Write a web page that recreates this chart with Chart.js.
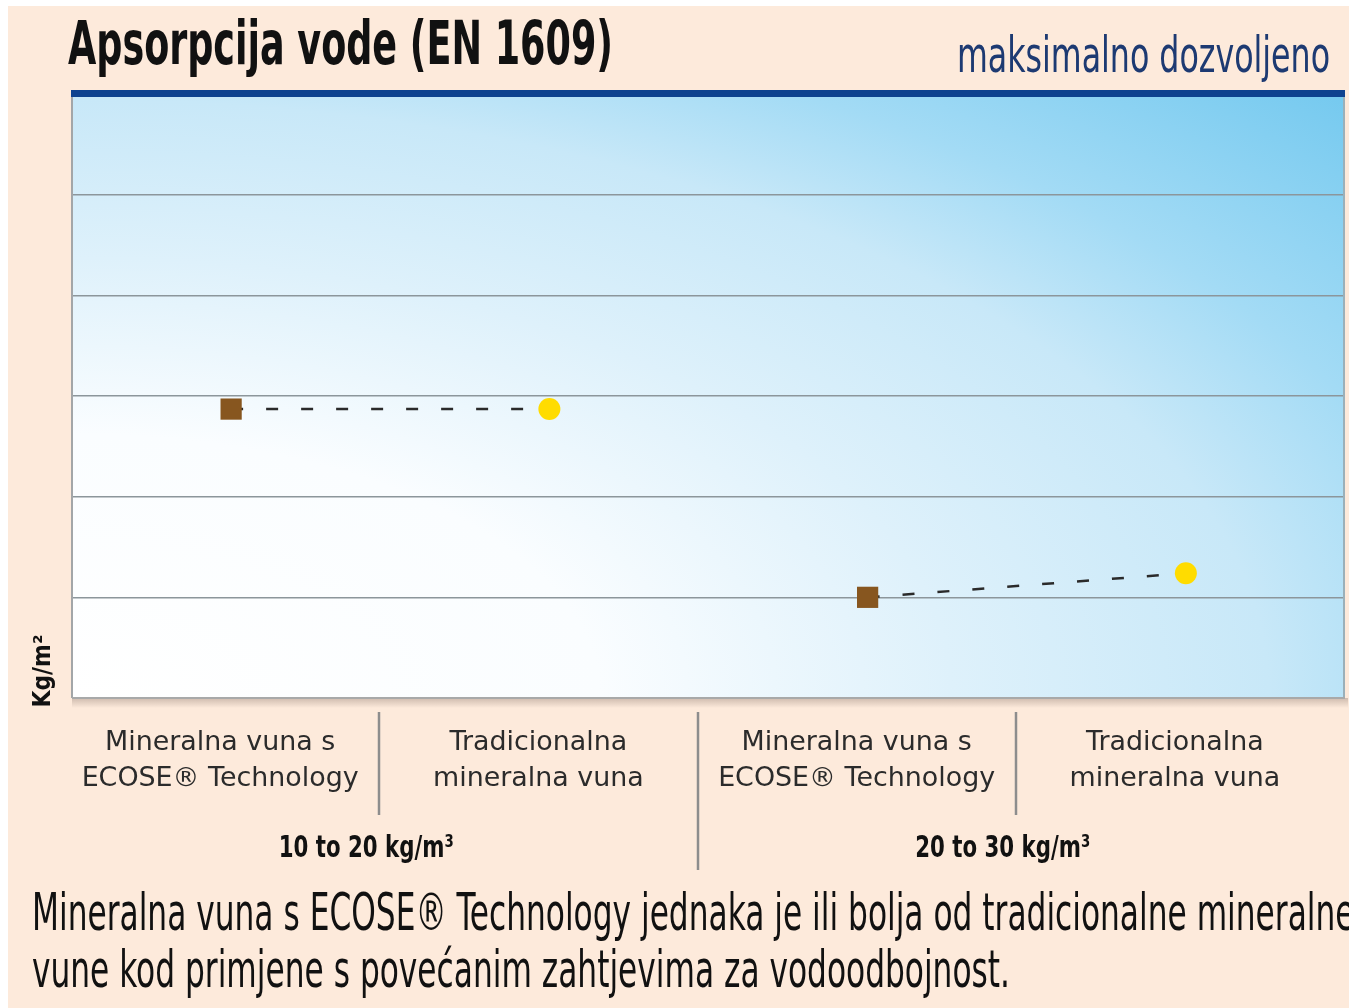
<!DOCTYPE html>
<html><head><meta charset="utf-8">
<script src="https://cdn.jsdelivr.net/npm/chart.js@4.4.1/dist/chart.umd.min.js"></script>
<style>html,body{margin:0;padding:0;background:#fff;overflow:hidden}
#wrap{position:relative;width:1349px;height:1008px}</style>
</head><body><div id="wrap"><canvas id="c" width="1349" height="1008"></canvas></div>
<script>
// ---- data ----
const categories = [
  ["Mineralna vuna s", "ECOSE® Technology"],
  ["Tradicionalna", "mineralna vuna"],
  ["Mineralna vuna s", "ECOSE® Technology"],
  ["Tradicionalna", "mineralna vuna"]
];
const groupLabels = ["10 to 20 kg/m³", "20 to 30 kg/m³"];
const ecoseValues = [2.87, null, 1.00, null];
const traditionalValues = [null, 2.87, null, 1.24];
const yTicks = [0, 1, 2, 3, 4, 5, 6];
const titleText = "Apsorpcija vode (EN 1609)";
const subtitleText = "maksimalno dozvoljeno";
const yAxisLabel = "Kg/m²";
const captionLines = [
  "Mineralna vuna s ECOSE® Technology jednaka je ili bolja od tradicionalne mineralne",
  "vune kod primjene s povećanim zahtjevima za vodoodbojnost."
];
// connecting lines for each density group (built from the series above)
const pairLine1 = [ecoseValues[0], traditionalValues[1], null, null];
const pairLine2 = [null, null, ecoseValues[2], traditionalValues[3]];

// ---- helpers ----
const COND = '"Liberation Sans Narrow", "DejaVu Sans Condensed", "Roboto Condensed", sans-serif';
const WIDE = '"DejaVu Sans", "Lato", sans-serif';
function scaleFor(ctx, text, font, width) {
  ctx.save(); ctx.font = font; const m = ctx.measureText(text).width; ctx.restore();
  return width / m;
}
function drawScaled(ctx, text, x, y, font, color, align, s) {
  ctx.save();
  ctx.font = font; ctx.fillStyle = color; ctx.textBaseline = 'alphabetic'; ctx.textAlign = align;
  ctx.translate(x, y); ctx.scale(s, 1); ctx.fillText(text, 0, 0);
  ctx.restore();
}

const bgPlugin = {
  id: 'bg',
  beforeDraw(chart) {
    const ctx = chart.ctx, a = chart.chartArea;
    ctx.save();
    ctx.fillStyle = '#ffffff'; ctx.fillRect(0, 0, chart.width, chart.height);
    ctx.fillStyle = '#fdeadb'; ctx.fillRect(8, 6, chart.width - 8, chart.height - 6);
    // plot shadow
    const sh = ctx.createLinearGradient(0, a.bottom, 0, a.bottom + 10);
    sh.addColorStop(0, 'rgba(120,100,90,0.35)'); sh.addColorStop(1, 'rgba(120,100,90,0)');
    ctx.fillStyle = sh; ctx.fillRect(a.left, a.bottom, a.right - a.left + 3, 10);
    // plot gradient
    const w = a.right - a.left, h = a.bottom - a.top;
    ctx.beginPath(); ctx.rect(a.left, a.top, w, h); ctx.clip();
    ctx.translate(a.left, a.bottom); ctx.scale(2, 1);
    const g = ctx.createRadialGradient(0, 0, 0, 0, 0, 880);
    g.addColorStop(0, '#ffffff');
    g.addColorStop(0.3, '#fafdff');
    g.addColorStop(0.5, '#def1fb');
    g.addColorStop(0.68, '#c8e8f8');
    g.addColorStop(0.8, '#a3dbf5');
    g.addColorStop(1, '#74c9ef');
    ctx.fillStyle = g; ctx.fillRect(0, -h - 2, w / 2 + 2, h + 4);
    ctx.restore();
  },
  beforeDatasetsDraw(chart) {
    const ctx = chart.ctx, a = chart.chartArea;
    ctx.save();
    ctx.strokeStyle = '#a3a6a8'; ctx.lineWidth = 2;
    ctx.beginPath(); ctx.moveTo(a.left, a.top); ctx.lineTo(a.left, a.bottom); ctx.stroke();
    ctx.strokeStyle = '#9bb0b9';
    ctx.beginPath(); ctx.moveTo(a.right - 1, a.top); ctx.lineTo(a.right - 1, a.bottom); ctx.stroke();
    ctx.strokeStyle = '#a8a9a9';
    ctx.beginPath(); ctx.moveTo(a.left, a.bottom); ctx.lineTo(a.right, a.bottom); ctx.stroke();
    ctx.fillStyle = '#0e428f'; ctx.fillRect(a.left - 1, a.top - 4, a.right - a.left + 1, 7);
    ctx.restore();
  },
  afterDraw(chart) {
    const ctx = chart.ctx, a = chart.chartArea, xs = chart.scales.x;
    // title & subtitle
    const tf = 'bold 60px ' + COND;
    drawScaled(ctx, titleText, 68, 64, tf, '#111111', 'left', scaleFor(ctx, titleText, tf, 545));
    const sf = '50px ' + COND;
    drawScaled(ctx, subtitleText, 1330, 72, sf, '#1d3a72', 'right', scaleFor(ctx, subtitleText, sf, 373));
    // y axis label
    ctx.save();
    ctx.translate(50, 671); ctx.rotate(-Math.PI / 2);
    const yf = 'bold 24px ' + COND;
    drawScaled(ctx, yAxisLabel, 0, 0, yf, '#111111', 'center', scaleFor(ctx, yAxisLabel, yf, 73));
    ctx.restore();
    // category labels
    const cf = '27px ' + WIDE;
    const cs = scaleFor(ctx, 'ECOSE® Technology', cf, 277);
    const centers = categories.map((c, i) => xs.getPixelForValue(i) - 11);
    categories.forEach((lines, i) => {
      lines.forEach((ln, j) => drawScaled(ctx, ln, centers[i], 750 + j * 36, cf, '#2b2b2b', 'center', cs));
    });
    // dividers
    ctx.save(); ctx.strokeStyle = '#8d8d8d'; ctx.lineWidth = 2.5;
    for (let i = 0; i < centers.length - 1; i++) {
      const x = Math.round((centers[i] + centers[i + 1]) / 2);
      const long = (i === 1);
      ctx.beginPath(); ctx.moveTo(x, 712); ctx.lineTo(x, long ? 870 : 815); ctx.stroke();
    }
    ctx.restore();
    // group labels
    const gf = 'bold 31px ' + COND;
    const gs = scaleFor(ctx, groupLabels[0], gf, 175);
    groupLabels.forEach((g, k) => {
      const cx = (xs.getPixelForValue(2 * k) + xs.getPixelForValue(2 * k + 1)) / 2 - 24;
      drawScaled(ctx, g, cx, 857, gf, '#111111', 'center', gs);
    });
    // caption
    const pf = '52px ' + COND;
    const ps = scaleFor(ctx, captionLines[1], pf, 978);
    drawScaled(ctx, captionLines[0], 32, 930, pf, '#111111', 'left', ps);
    drawScaled(ctx, captionLines[1], 32, 987, pf, '#111111', 'left', ps);
  }
};

new Chart(document.getElementById('c').getContext('2d'), {
  type: 'line',
  data: {
    labels: categories,
    datasets: [
      { label: 'ECOSE', data: ecoseValues, showLine: false, pointStyle: 'rect', pointRadius: 15,
        pointBackgroundColor: '#87561f', pointBorderWidth: 0, order: 1 },
      { label: 'Tradicionalna', data: traditionalValues, showLine: false, pointStyle: 'circle', pointRadius: 11,
        pointBackgroundColor: '#ffdc00', pointBorderWidth: 0, order: 1 },
      { label: 'pair1', data: pairLine1, borderColor: '#2a2a2a', borderWidth: 2.5, borderDash: [12, 23],
        pointRadius: 0, tension: 0, order: 2 },
      { label: 'pair2', data: pairLine2, borderColor: '#2a2a2a', borderWidth: 2.5, borderDash: [12, 23],
        pointRadius: 0, tension: 0, order: 2 }
    ]
  },
  options: {
    responsive: false, animation: false,
    layout: { autoPadding: false, padding: { left: 72, right: 4, top: 94, bottom: 310 } },
    plugins: { legend: { display: false }, tooltip: { enabled: false }, title: { display: false } },
    scales: {
      x: { offset: true, ticks: { display: false }, grid: { display: false, drawTicks: false }, border: { display: false } },
      y: { min: 0, max: 6,
           afterBuildTicks: (s) => { s.ticks = yTicks.map(v => ({ value: v })); },
           ticks: { display: false }, grid: { color: '#8c969b', lineWidth: 1.5, drawTicks: false },
           border: { display: false } }
    }
  },
  plugins: [bgPlugin]
});
</script></body></html>
